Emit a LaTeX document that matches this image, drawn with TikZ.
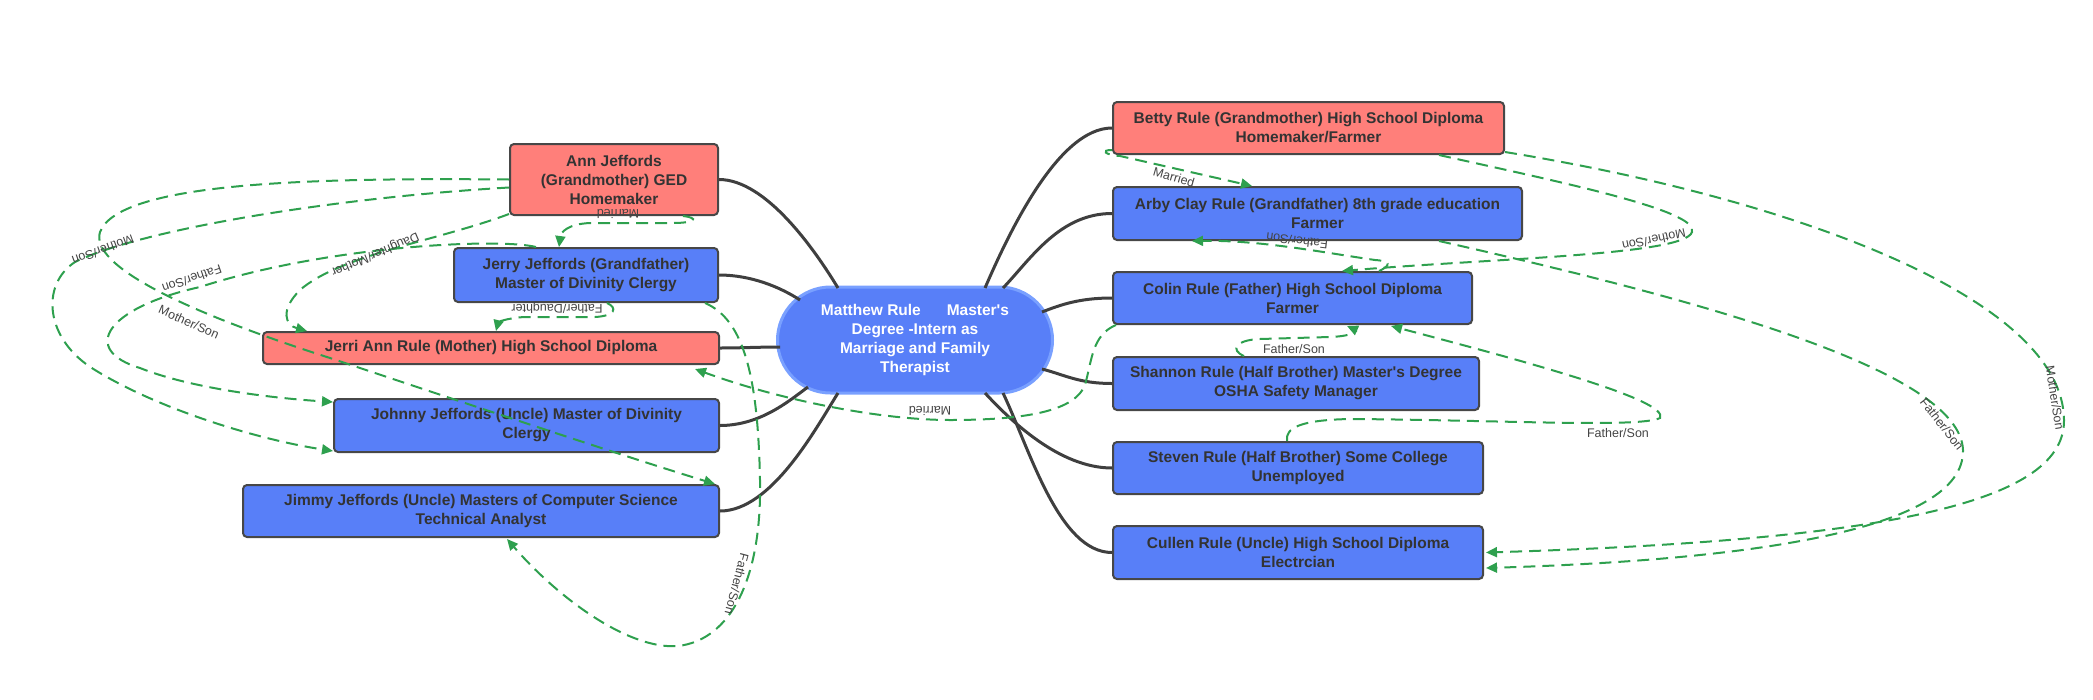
\documentclass[tikz,border=0pt]{standalone}
\usepackage{fontspec}
\setmainfont{Liberation Sans}[Ligatures=TeXOff]
\usetikzlibrary{arrows.meta,shapes.misc,calc}
\definecolor{nodered}{HTML}{FF7F7A}
\definecolor{nodeblue}{HTML}{587FF8}
\definecolor{edgegray}{HTML}{474747}
\definecolor{branchgray}{HTML}{3F3F3F}
\definecolor{relgreen}{HTML}{2EA04E}
\definecolor{txt}{HTML}{333333}
\definecolor{lbl}{HTML}{444444}
\definecolor{ring}{HTML}{79A0FF}
\begin{document}
\begin{tikzpicture}[x=1pt,y=-1pt,
  person/.style={draw=edgegray, line width=2pt, rounded corners=4pt, inner sep=0pt,
    align=center, font=\fontsize{15.5}{19}\selectfont\bfseries, text=txt},
  female/.style={person, fill=nodered},
  male/.style={person, fill=nodeblue},
  hub/.style={rounded rectangle, fill=nodeblue, draw=ring, line width=3pt,
    minimum width=275pt, minimum height=106pt, inner sep=0pt, align=center,
    font=\fontsize{15.5}{19}\selectfont\bfseries, text=white},
  branch/.style={draw=branchgray, line width=3pt},
  rel/.style={draw=relgreen, line width=2pt, dash pattern=on 12pt off 7pt,
    -{Triangle[length=11pt,width=10pt]}},
  rellabel/.style={font=\fontsize{12.5}{14}\selectfont, text=lbl, inner sep=1pt},
]
\useasboundingbox (0,0) rectangle (2093,699);

% ---------- nodes ----------
\node[hub] (hub) at (915,340) {Matthew Rule\hspace{1.67em}Master's\\Degree -Intern as\\Marriage and Family\\Therapist};

\node[female, minimum width=208pt, minimum height=71pt] (ann) at (614,179.5) {Ann Jeffords\\(Grandmother) GED\\Homemaker};
\node[male, minimum width=264pt, minimum height=54pt] (jerry) at (586,275) {Jerry Jeffords (Grandfather)\\Master of Divinity Clergy};
\node[female, minimum width=456pt, minimum height=32pt] (jerri) at (491,348) {Jerri Ann Rule (Mother) High School Diploma};
\node[male, minimum width=385pt, minimum height=53pt] (johnny) at (526.5,425.5) {Johnny Jeffords (Uncle) Master of Divinity\\Clergy};
\node[male, minimum width=476pt, minimum height=52pt] (jimmy) at (481,511) {Jimmy Jeffords (Uncle) Masters of Computer Science\\Technical Analyst};

\node[female, minimum width=391pt, minimum height=52pt] (betty) at (1308.5,128) {Betty Rule (Grandmother) High School Diploma\\Homemaker/Farmer};
\node[male, minimum width=409pt, minimum height=53pt] (arby) at (1317.5,213.5) {Arby Clay Rule (Grandfather) 8th grade education\\Farmer};
\node[male, minimum width=359pt, minimum height=52pt] (colin) at (1292.5,298) {Colin Rule (Father) High School Diploma\\Farmer};
\node[male, minimum width=366pt, minimum height=53pt] (shannon) at (1296,383.5) {Shannon Rule (Half Brother) Master's Degree\\OSHA Safety Manager};
\node[male, minimum width=370pt, minimum height=52pt] (steven) at (1298,468) {Steven Rule (Half Brother) Some College\\Unemployed};
\node[male, minimum width=370pt, minimum height=53pt] (cullen) at (1298,552.5) {Cullen Rule (Uncle) High School Diploma\\Electrcian};

% ---------- branches ----------
\draw[branch] (ann.east) .. controls +(47,0) and +(-23,-38) .. ($(hub.center)+(-77,-52)$);
\draw[branch] (jerry.east) .. controls +(32,0) and +(-20,-13) .. ($(hub.center)+(-115,-40)$);
\draw[branch] (jerri.east) .. controls +(20,0) and +(-20,0) .. ($(hub.center)+(-135,7)$);
\draw[branch] (johnny.east) .. controls +(41,0) and +(-18,13) .. ($(hub.center)+(-107,47)$);
\draw[branch] (jimmy.east) .. controls +(51,0) and +(-23,37) .. ($(hub.center)+(-77,53)$);
\draw[branch] (betty.west) .. controls +(-53,0) and +(25,-58) .. ($(hub.center)+(70,-52)$);
\draw[branch] (arby.west) .. controls +(-53,0) and +(27,-28) .. ($(hub.center)+(88,-52)$);
\draw[branch] (colin.west) .. controls +(-33,0) and +(18,-7) .. ($(hub.center)+(127,-28)$);
\draw[branch] (shannon.west) .. controls +(-33,0) and +(23,6) .. ($(hub.center)+(127,29)$);
\draw[branch] (steven.west) .. controls +(-53,0) and +(25,27) .. ($(hub.center)+(70,53)$);
\draw[branch] (cullen.west) .. controls +(-53,0) and +(27,57) .. ($(hub.center)+(88,53)$);

% ---------- relations (left) ----------
\draw[rel] ($(ann.south east)+(-36,0)$) .. controls (700,218) and (695,223) .. (673,223) -- (590,223) .. controls (568,224) and (561,232) .. ($(jerry.north west)+(106,0)$);
\draw[rel] ($(jerry.south west)+(154,0)$) .. controls (618,308) and (615,316) .. (595,317) -- (525,317) .. controls (505,318) and (498,323) .. ($(jerri.north west)+(234,0)$);
\draw[rel] ($(ann.south west)+(0,-2)$) .. controls (440,240) and (340,255) .. (300,290) .. controls (280,310) and (285,325) .. ($(jerri.north west)+(45,0)$);
\draw[rel] ($(ann.west)+(0,8)$) .. controls (330,198) and (140,230) .. (75,262) .. controls (40,285) and (45,340) .. (95,370) .. controls (160,410) and (260,440) .. ($(johnny.south west)+(0,-2)$);
\draw[rel] (ann.west) .. controls (330,178) and (120,180) .. (100,232) .. controls (90,265) and (180,310) .. (330,358) .. controls (480,408) and (620,455) .. ($(jimmy.north east)+(-5,0)$);
\draw[rel] ($(jerry.north west)+(83,0)$) .. controls (500,238) and (330,245) .. (200,287) .. controls (105,308) and (80,350) .. (140,368) .. controls (190,388) and (270,398) .. ($(johnny.north west)+(0,4)$);
\draw[rel] ($(jerry.south east)+(-14,0)$) .. controls (745,320) and (758,380) .. (760,480) .. controls (762,580) and (730,640) .. (678,646) .. controls (630,650) and (560,600) .. ($(jimmy.south west)+(265,1)$);
\draw[rel] ($(colin.south west)+(4,0)$) .. controls (1092,335) and (1092,360) .. (1085,385) .. controls (1075,410) and (1030,420) .. (950,420) .. controls (880,420) and (780,400) .. ($(jerri.south east)+(-25,4)$);

% ---------- relations (right) ----------
\draw[rel] ($(betty.south west)+(0,-5)$) .. controls (1100,150) and (1105,155) .. (1120,156) -- ($(arby.north west)+(140,0)$);
\draw[rel] ($(betty.east)+(0,24)$) .. controls (1800,200) and (2063,300) .. (2064,420) .. controls (2065,500) and (1900,540) .. ($(cullen.east)+(2,0)$);
\draw[rel] ($(arby.south west)+(327,0)$) .. controls (1700,300) and (1960,370) .. (1963,450) .. controls (1965,530) and (1750,560) .. ($(cullen.south east)+(2,-12)$);
\draw[rel] ($(betty.south west)+(327,0)$) .. controls (1550,180) and (1700,210) .. (1692,232) .. controls (1685,255) and (1500,258) .. ($(colin.north west)+(230,0)$);
\draw[rel] ($(colin.north west)+(267,0)$) .. controls (1392,265) and (1390,261) .. (1375,260) .. controls (1320,252) and (1260,240) .. ($(arby.south west)+(80,0)$);
\draw[rel] ($(shannon.north west)+(132,0)$) .. controls (1230,350) and (1235,340) .. (1260,339) -- (1330,337) .. controls (1356,336) and (1356,330) .. ($(colin.south west)+(235,1)$);
\draw[rel] ($(steven.north west)+(175,0)$) .. controls (1285,428) and (1300,420) .. (1350,419) .. controls (1500,420) and (1640,428) .. (1660,418) .. controls (1670,400) and (1520,360) .. ($(colin.south west)+(279,1)$);

% ---------- relation labels ----------
\node[rellabel, rotate=180] (l1) at (618,214) {Married};
\node[rellabel, rotate=180] (l2) at (557,308) {Father/Daughter};
\node[rellabel, rotate=203] (l3) at (375,254) {Daughter/Mother};
\node[rellabel, rotate=200] (l4) at (103,250) {Mother/Son};
\node[rellabel, rotate=-24] (l5) at (189,322) {Mother/Son};
\node[rellabel, rotate=199] (l6) at (192,279) {Father/Son};
\node[rellabel, rotate=-105] (l7) at (737,584) {Father/Son};
\node[rellabel, rotate=180] (l8) at (930,411) {Married};
\node[rellabel, rotate=-16] (l9) at (1174,177) {Married};
\node[rellabel, rotate=-81] (l10) at (2055,398) {Mother/Son};
\node[rellabel, rotate=-52] (l11) at (1942,424) {Father/Son};
\node[rellabel, rotate=192] (l12) at (1654,240) {Mother/Son};
\node[rellabel, rotate=173] (l13) at (1297,241) {Father/Son};
\node[rellabel] (l14) at (1294,349) {Father/Son};
\node[rellabel] (l15) at (1618,433) {Father/Son};
\end{tikzpicture}
\end{document}
